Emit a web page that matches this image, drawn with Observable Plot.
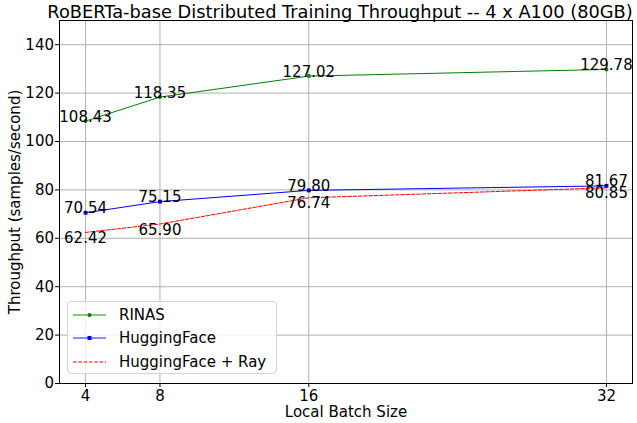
<!DOCTYPE html>
<html><head><meta charset="utf-8">
<script src="https://cdn.jsdelivr.net/npm/d3@7"></script>
<script src="https://cdn.jsdelivr.net/npm/@observablehq/plot@0.6"></script>
<style>
body{margin:0;background:#fff;font-family:"DejaVu Sans",sans-serif;}
#wrap{position:relative;width:637px;height:423px;}
#legend{position:absolute;left:67px;top:301px;width:210px;height:73px;border:1px solid #d4d4d4;border-radius:4px;background:rgba(255,255,255,0.8);font-size:15px;box-sizing:border-box;}
.row{position:absolute;left:5px;height:20px;display:flex;align-items:center;white-space:nowrap;}
.row span{margin-left:13px;}
</style></head>
<body><div id="wrap"><div id="chart"></div>
<div id="legend"></div></div>
<script>
const batch = [4, 8, 16, 32];
const rinas = [108.43, 118.35, 127.02, 129.78];
const hf = [70.54, 75.15, 79.80, 81.67];
const ray = [62.42, 65.90, 76.74, 80.85];
const yTicks = [0, 20, 40, 60, 80, 100, 120, 140];
const seriesNames = ["RINAS", "HuggingFace", "HuggingFace + Ray"];
const colors = ["green", "blue", "red"];
const titleText = "RoBERTa-base Distributed Training Throughput -- 4 x A100 (80GB)";
const xLabel = "Local Batch Size";
const yLabel = "Throughput (samples/second)";

const mk = (arr, name) => batch.map((b, i) => ({x: b, y: arr[i], s: name}));
const dR = mk(rinas, seriesNames[0]);
const dH = mk(hf, seriesNames[1]);
const dY = mk(ray, seriesNames[2]);

const plot = Plot.plot({
  width: 637, height: 423,
  marginTop: 20, marginLeft: 59, marginRight: 5, marginBottom: 40,
  style: {fontSize: "15px", fontFamily: "DejaVu Sans", color: "black", background: "white"},
  x: {type: "linear", domain: [2.6, 33.4]},
  y: {domain: [0, 150]},
  marks: [
    Plot.gridX(batch, {stroke: "#b0b0b0", strokeOpacity: 1, strokeWidth: 1}),
    Plot.gridY(yTicks, {stroke: "#b0b0b0", strokeOpacity: 1, strokeWidth: 1}),
    Plot.axisX(batch, {tickSize: 4, tickPadding: 2.5, label: null, fontSize: 15}),
    Plot.axisY(yTicks, {tickSize: 4, tickPadding: 1.5, label: null, fontSize: 15}),
    Plot.frame({stroke: "black", strokeWidth: 1}),
    Plot.line(dR, {x: "x", y: "y", stroke: colors[0], strokeWidth: 1}),
    Plot.dot(dR, {x: "x", y: "y", fill: colors[0], r: 2}),
    Plot.line(dH, {x: "x", y: "y", stroke: colors[1], strokeWidth: 1}),
    Plot.dot(dH, {x: "x", y: "y", fill: colors[1], symbol: "square", r: 2.2}),
    Plot.line(dY, {x: "x", y: "y", stroke: colors[2], strokeWidth: 1, strokeDasharray: "3.7,1.6"}),
    Plot.text(dR, {x: "x", y: "y", text: d => d.y.toFixed(2), lineAnchor: "bottom", textAnchor: "middle", fontSize: 15, dy: 0.5}),
    Plot.text(dH, {x: "x", y: "y", text: d => d.y.toFixed(2), lineAnchor: "bottom", textAnchor: "middle", fontSize: 15, dy: 0.5}),
    Plot.text(dY, {x: "x", y: "y", text: d => d.y.toFixed(2), lineAnchor: "top", textAnchor: "middle", fontSize: 15, dy: 0}),
    Plot.text([titleText], {frameAnchor: "top", dx: -6, dy: -2.5, fontSize: 17.8, lineAnchor: "bottom", textAnchor: "middle"}),
    Plot.text([xLabel], {frameAnchor: "bottom", dy: 33, fontSize: 15, lineAnchor: "bottom", textAnchor: "middle"}),
    Plot.text([yLabel], {frameAnchor: "left", dx: -44, rotate: -90, fontSize: 15, lineAnchor: "middle", textAnchor: "middle"})
  ]
});
document.getElementById("chart").appendChild(plot);

const leg = document.getElementById("legend");
seriesNames.forEach((n, i) => {
  const row = document.createElement("div");
  row.className = "row";
  row.style.top = (3 + i * 23.3) + "px";
  let sw = `<svg width="33" height="10" style="overflow:visible"><line x1="0" x2="33" y1="5" y2="5" stroke="${colors[i]}" stroke-width="${i === 2 ? 1 : 1.6}" stroke-opacity="${i === 2 ? 1 : 0.6}"${i === 2 ? ' stroke-dasharray="3.7,1.6"' : ''}/>`;
  if (i === 0) sw += `<circle cx="16.5" cy="5" r="2" fill="${colors[i]}"/>`;
  if (i === 1) sw += `<rect x="14.5" y="3" width="4" height="4" fill="${colors[i]}"/>`;
  sw += `</svg>`;
  row.innerHTML = sw + `<span>${n}</span>`;
  leg.appendChild(row);
});
</script></body></html>
